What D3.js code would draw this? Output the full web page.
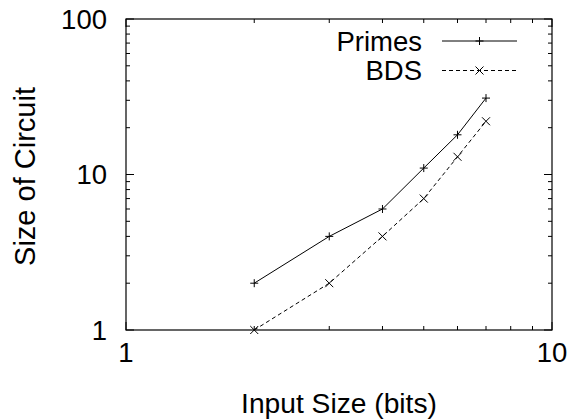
<!DOCTYPE html>
<html><head><meta charset="utf-8">
<script src="https://cdn.jsdelivr.net/npm/d3@7"></script>
<style>body{margin:0;background:#fff}svg{display:block}text{font-family:"Liberation Sans",Arial,Helvetica,sans-serif;fill:#000}</style>
</head><body>
<svg id="c" width="573" height="419"></svg>
<script>
const inputBits = [2, 3, 4, 5, 6, 7];
const primesSize = [2, 4, 6, 11, 18, 31];
const bdsSize = [1, 2, 4, 7, 13, 22];
const seriesNames = ["Primes", "BDS"];
const xTickLabels = [1, 10];
const yTickLabels = [1, 10, 100];
const minorTicks = [2, 3, 4, 5, 6, 7, 8, 9];

const svg = d3.select("#c");
const L = 126, R = 552, T = 19, B = 330;
const x = d3.scaleLog().domain([1, 10]).range([L, R]);
const y = d3.scaleLog().domain([1, 100]).range([B, T]);

const xMajors = xTickLabels;
const xMinors = minorTicks;
const yMajors = yTickLabels;
const yMinors = minorTicks.concat(minorTicks.map(d => d * 10));

const g = svg.append("g");
function ticksX(vals, len) {
  vals.forEach(v => {
    g.append("line").attr("x1", x(v)).attr("x2", x(v)).attr("y1", B).attr("y2", B - len).attr("stroke", "#000");
    g.append("line").attr("x1", x(v)).attr("x2", x(v)).attr("y1", T).attr("y2", T + len).attr("stroke", "#000");
  });
}
function ticksY(vals, len) {
  vals.forEach(v => {
    g.append("line").attr("y1", y(v)).attr("y2", y(v)).attr("x1", L).attr("x2", L + len).attr("stroke", "#000");
    g.append("line").attr("y1", y(v)).attr("y2", y(v)).attr("x1", R).attr("x2", R - len).attr("stroke", "#000");
  });
}
ticksX(xMajors, 8); ticksX(xMinors, 4);
ticksY(yMajors, 8); ticksY(yMinors, 4);

g.append("rect").attr("x", L).attr("y", T).attr("width", R - L).attr("height", B - T)
  .attr("fill", "none").attr("stroke", "#000").attr("stroke-width", 1.2);

xTickLabels.forEach(v => {
  svg.append("text").attr("x", x(v)).attr("y", 362).attr("text-anchor", "middle")
    .attr("font-size", 27.5).text(v);
});
yTickLabels.forEach(v => {
  svg.append("text").attr("x", 107).attr("y", y(v) + 9.5).attr("text-anchor", "end")
    .attr("font-size", 27.5).text(v);
});

svg.append("text").attr("x", (L + R) / 2).attr("y", 413).attr("text-anchor", "middle")
  .attr("font-size", 28.2).text("Input Size (bits)");
svg.append("text").attr("transform", "translate(35," + ((T + B) / 2 + 2) + ") rotate(-90)")
  .attr("text-anchor", "middle").attr("font-size", 29).text("Size of Circuit");

const series = [
  { name: seriesNames[0], vals: primesSize, dash: null, marker: "plus" },
  { name: seriesNames[1], vals: bdsSize, dash: "4,3", marker: "cross" }
];
const line = d3.line().x(d => x(d[0])).y(d => y(d[1]));
function marker(sel, cx, cy, type) {
  const s = 4;
  if (type === "plus") {
    sel.append("path").attr("d", `M${cx - s},${cy}H${cx + s}M${cx},${cy - s}V${cy + s}`).attr("stroke", "#000").attr("fill", "none");
  } else {
    sel.append("path").attr("d", `M${cx - s},${cy - s}L${cx + s},${cy + s}M${cx - s},${cy + s}L${cx + s},${cy - s}`).attr("stroke", "#000").attr("fill", "none");
  }
}
series.forEach((s, i) => {
  const pts = inputBits.map((b, j) => [b, s.vals[j]]);
  svg.append("path").attr("d", line(pts)).attr("fill", "none").attr("stroke", "#000")
    .attr("stroke-width", 1).attr("stroke-dasharray", s.dash);
  pts.forEach(p => marker(svg, x(p[0]), y(p[1]), s.marker));
  const ly = 41 + i * 29.5;
  svg.append("text").attr("x", 422).attr("y", ly + 9.5).attr("text-anchor", "end")
    .attr("font-size", 27.5).text(s.name);
  svg.append("line").attr("x1", 442).attr("x2", 517).attr("y1", ly).attr("y2", ly)
    .attr("stroke", "#000").attr("stroke-dasharray", s.dash);
  marker(svg, 479.5, ly, s.marker);
});
</script>
</body></html>
